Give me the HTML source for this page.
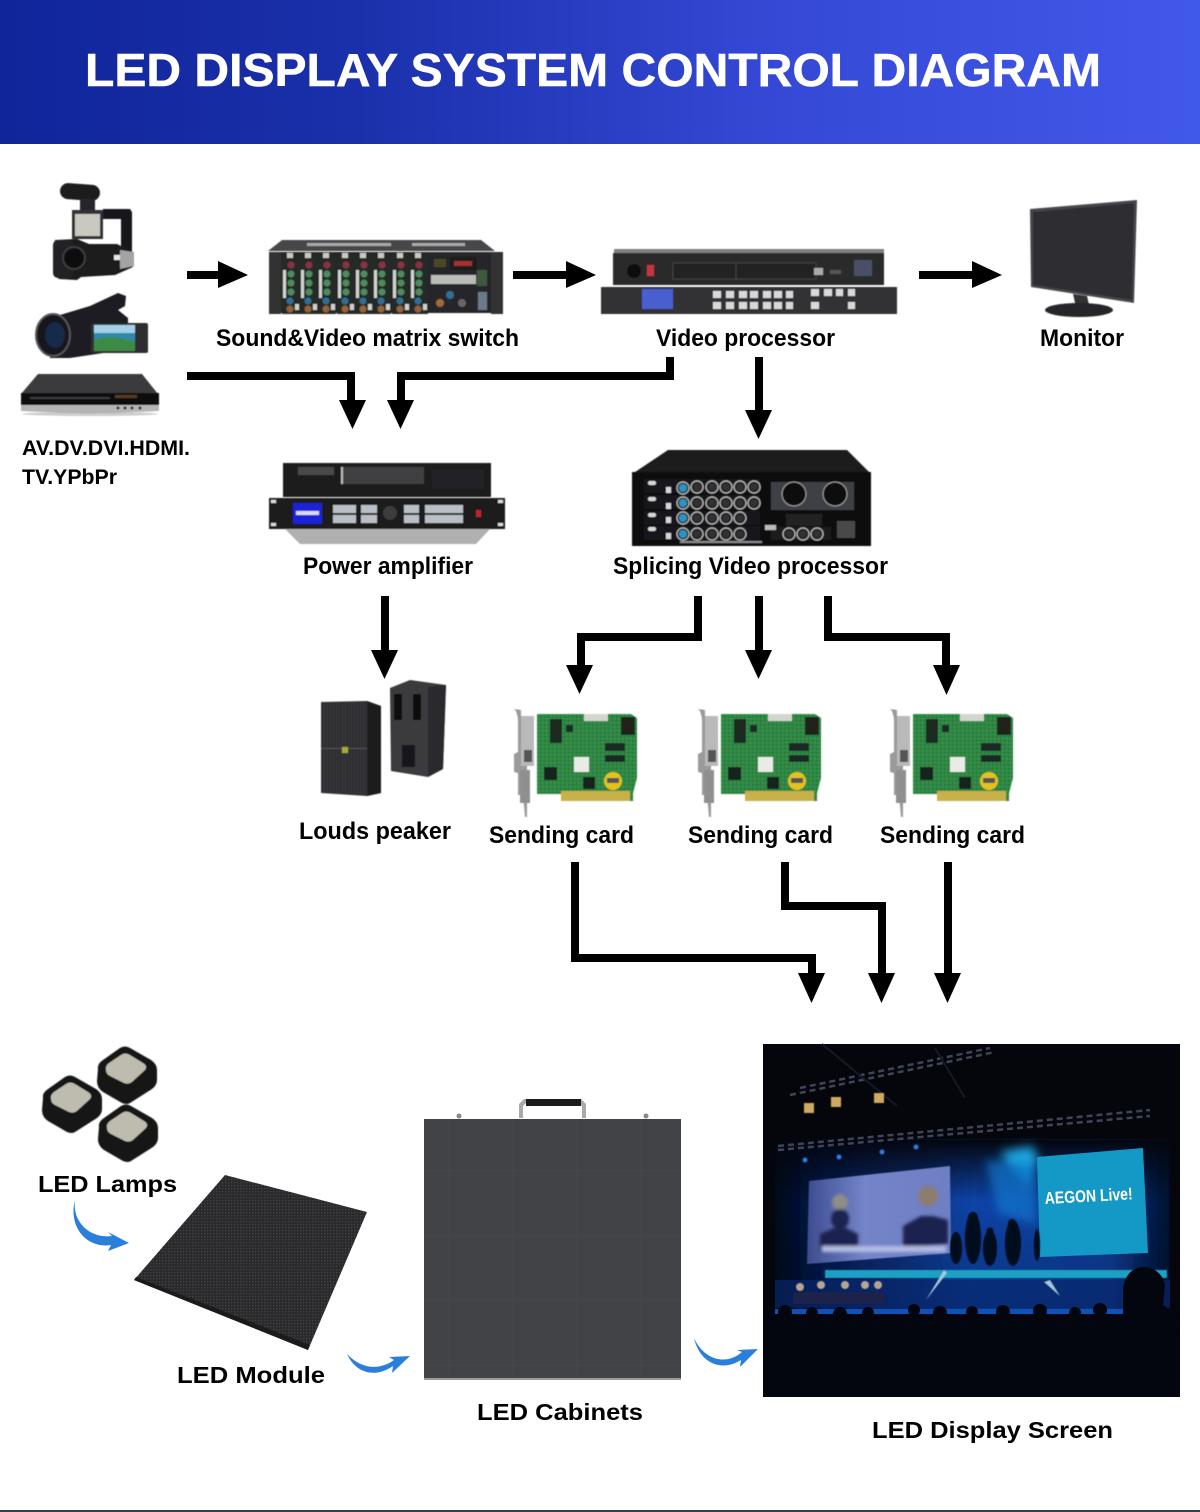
<!DOCTYPE html>
<html><head><meta charset="utf-8">
<style>html,body{margin:0;padding:0;background:#fff}svg{display:block}
text{font-family:"Liberation Sans",sans-serif;font-weight:bold;fill:#000}</style></head>
<body>
<svg width="1200" height="1512" viewBox="0 0 1200 1512" xmlns="http://www.w3.org/2000/svg">
<defs>
<linearGradient id="hd" x1="0" x2="1" y1="0" y2="0"><stop offset="0" stop-color="#10259a"/><stop offset=".3" stop-color="#1a30ab"/><stop offset=".65" stop-color="#3549d6"/><stop offset="1" stop-color="#4158e9"/></linearGradient>
<linearGradient id="stage" x1="0" x2="1" y1="0" y2="0"><stop offset="0" stop-color="#030818"/><stop offset=".12" stop-color="#061a50"/><stop offset=".5" stop-color="#0a44a8"/><stop offset=".85" stop-color="#093c96"/><stop offset="1" stop-color="#03102e"/></linearGradient>
<linearGradient id="stv" x1="0" x2="0" y1="0" y2="1"><stop offset="0" stop-color="#04060f"/><stop offset=".35" stop-color="#04060f" stop-opacity="0"/><stop offset="1" stop-color="#04060f" stop-opacity=".25"/></linearGradient>
<linearGradient id="lsc" x1="0" x2="1" y1="0" y2="0"><stop offset="0" stop-color="#3d4c90"/><stop offset=".4" stop-color="#7484c8"/><stop offset="1" stop-color="#6e7fc4"/></linearGradient>
<pattern id="gn" width="4" height="4" patternUnits="userSpaceOnUse"><rect width="1.4" height="1.4" fill="#1c5a2c" opacity=".55"/><rect x="2" y="2" width="1.2" height="1.2" fill="#6fb583" opacity=".4"/></pattern>
<pattern id="modp" width="3" height="3" patternUnits="userSpaceOnUse"><rect width="3" height="3" fill="#2a2a2c"/><rect width="1.3" height="1.3" fill="#434346"/></pattern>
<pattern id="cabp" width="64" height="65" patternUnits="userSpaceOnUse"><rect width="64" height="65" fill="#414346"/><path d="M0 0H64M0 0V65" stroke="#4a4c4f" stroke-width=".6"/></pattern>
<pattern id="spk" width="3" height="3" patternUnits="userSpaceOnUse"><rect width="3" height="3" fill="#2f2f33"/><rect width="1" height="3" fill="#37373b"/></pattern>
<filter id="b1" x="-10%" y="-10%" width="120%" height="120%"><feGaussianBlur stdDeviation=".6"/></filter>
<filter id="b2" x="-30%" y="-30%" width="160%" height="160%"><feGaussianBlur stdDeviation="5"/></filter>
<filter id="b4" x="-50%" y="-50%" width="200%" height="200%"><feGaussianBlur stdDeviation="1.5"/></filter>

<g id="card" filter="url(#b1)">
<path d="M514 709l7 1v6l6 1v100l-2 0-2-22h-5v-22l-4-1v-18l4-2v-34l-2-7z" fill="#9a9a9a"/>
<rect x="521" y="716" width="13" height="50" fill="#b9b9b9"/>
<rect x="524" y="750" width="8" height="12" fill="#555"/>
<rect x="520" y="770" width="10" height="33" fill="#8f8f8f"/>
<path d="M537 714h94l6 4v60l-4 15v8h-70l0-7h-26z" fill="#2f8743"/>
<path d="M537 714h94l6 4v60l-4 15v8h-70l0-7h-26z" fill="url(#gn)"/>
<path d="M561 791h69v10h-69z" fill="#c9b14a"/>
<rect x="550" y="719" width="12" height="24" fill="#1d2a22"/>
<rect x="584" y="714" width="24" height="7" fill="#d5d5cf"/>
<rect x="621" y="717" width="14" height="18" fill="#20201f"/>
<rect x="605" y="743" width="20" height="8" fill="#1f2b25"/>
<rect x="605" y="755" width="20" height="7" fill="#1f2b25"/>
<rect x="574" y="757" width="15" height="15" fill="#e9ebe6"/>
<rect x="544" y="767" width="13" height="13" fill="#17211c"/>
<rect x="583" y="777" width="12" height="12" fill="#17211c"/>
<circle cx="613" cy="781" r="9" fill="#e3c21f"/>
<rect x="607" y="778" width="12" height="5" fill="#555"/>
<rect x="566" y="725" width="7" height="7" fill="#1f2b25"/>
</g>

<g id="knob"><circle r="6" fill="#202023" stroke="#bdbdbd" stroke-width="1.2"/><circle r="3.500" fill="#333"/></g>
<g id="knobb"><circle r="6" fill="#202023" stroke="#bdbdbd" stroke-width="1.2"/><circle r="4" fill="#2a95c4"/></g>
<g id="strip">
<rect x="0" y="0" width="18" height="60" fill="#252a28"/>
<rect x="5" y="-1" width="6" height="5" fill="#cfc7c2"/>
<circle cx="9" cy="11" r="3.500" fill="#8a3344"/>
<rect x="1" y="16" width="3" height="28" fill="#cfd4cf"/>
<circle cx="9" cy="20" r="3.500" fill="#4e8a5c"/><circle cx="9" cy="29" r="3.500" fill="#4e8a5c"/><circle cx="9" cy="38" r="3.500" fill="#4e8a5c"/>
<circle cx="8" cy="47" r="3.500" fill="#2d6f95"/>
<circle cx="8" cy="55" r="3.500" fill="#9a6238"/>
<rect x="13" y="50" width="4" height="6" fill="#cfd0cc"/>
</g>
<g id="lamp">
<path d="M-29 -4Q-30 -9 -24 -13L-7 -25Q-2 -28 3 -25L24 -13Q30 -9 30 -3V7Q30 12 25 16L3 30Q0 32 -5 30L-24 19Q-30 15 -30 8z" fill="#141414"/>
<path d="M-21 -3Q-22 -7 -18 -10L-6 -18Q-2 -21 3 -18L16 -10Q21 -7 18 -3L6 8Q2 12 -3 10L-17 3Q-21 1 -21 -3z" fill="#bdbcae"/>
</g>
</defs>

<!-- header -->
<rect width="1200" height="144" fill="url(#hd)"/>
<text x="85" y="86" font-size="46" textLength="1016" lengthAdjust="spacingAndGlyphs" style="fill:#fff;stroke:#fff;stroke-width:.5">LED DISPLAY SYSTEM CONTROL DIAGRAM</text>

<!-- arrows -->
<g fill="#000">
<rect x="187" y="271" width="31" height="8"/><polygon points="218,261 248,275 218,288"/>
<rect x="513" y="271" width="53" height="8"/><polygon points="566,261 596,275 566,288"/>
<rect x="919" y="271" width="53" height="8"/><polygon points="972,261 1002,275 972,288"/>

<rect x="187" y="372" width="168" height="8"/><rect x="347" y="372" width="8" height="29"/><polygon points="339,400 366,400 352.500,429"/>
<rect x="397" y="372" width="277" height="8"/><rect x="666" y="357" width="8" height="23"/><rect x="397" y="372" width="8" height="29"/><polygon points="387,400 414,400 400.500,429"/>
<rect x="755" y="357" width="8" height="54"/><polygon points="745,410 772,410 758.500,439"/>
<rect x="381" y="596" width="8" height="55"/><polygon points="371,650 398,650 384.500,679"/>

<rect x="694" y="596" width="8" height="45"/><rect x="577" y="633" width="125" height="8"/><rect x="577" y="633" width="8" height="33"/><polygon points="566,665 593,665 579.500,694"/>
<rect x="755" y="596" width="8" height="55"/><polygon points="745,650 772,650 758.500,679"/>
<rect x="824" y="596" width="8" height="45"/><rect x="824" y="633" width="126" height="8"/><rect x="942" y="633" width="8" height="33"/><polygon points="933,665 960,665 946.500,695"/>

<rect x="571" y="862" width="8" height="100"/><rect x="571" y="954" width="245" height="8"/><rect x="808" y="954" width="8" height="20"/><polygon points="798,973 825,973 811.500,1003"/>
<rect x="781" y="862" width="8" height="48"/><rect x="781" y="902" width="105" height="8"/><rect x="878" y="902" width="8" height="72"/><polygon points="868,973 895,973 881.500,1003"/>
<rect x="944" y="862" width="8" height="112"/><polygon points="934,973 961,973 947.500,1003"/>
</g>

<!-- camera 1 -->
<g filter="url(#b1)">
<rect x="60" y="184" width="40" height="16" rx="8" fill="#1a1a1c" transform="rotate(4 80 192)"/>
<rect x="80" y="199" width="15" height="11" fill="#26262a"/>
<rect x="72" y="210" width="31" height="29" fill="#333335"/>
<rect x="75" y="214" width="25" height="22" fill="#c9c9c2"/>
<path d="M103 209h27l2 3v46h-11v-39h-18z" fill="#19191b"/>
<path d="M55 240l22-1 12 5 28 0 16 8 0 15-18 8-34 2-4 3-18-1-5-5v-29z" fill="#1c1c1e"/>
<rect x="53" y="240" width="20" height="38" rx="5" fill="#232325"/>
<circle cx="74" cy="258" r="11" fill="#0d0d10" stroke="#3d3d40" stroke-width="2"/>
<rect x="114" y="255" width="7" height="5" fill="#e6e6e6"/>
<path d="M120 250l14 2v14l-14 3z" fill="#a3a3a3"/>
</g>
<!-- camera 2 -->
<g filter="url(#b1)">
<path d="M50 318l40-12 28-13 8 3-1 10-7 4 10 8v17h-14l-4 17-40 6-20 0z" fill="#1e1e22"/>
<ellipse cx="53" cy="335" rx="17" ry="21" fill="#15151a" stroke="#55555a" stroke-width="2"/>
<ellipse cx="55" cy="335" rx="10" ry="13" fill="#152a48"/>
<rect x="91" y="323" width="57" height="30" rx="2" fill="#2f2f33"/>
<rect x="94" y="325" width="41" height="26" fill="#2d8aa8"/>
<path d="M94 340q16-6 41 2v9H94z" fill="#3e8a44"/>
<rect x="94" y="325" width="41" height="8" fill="#a4d0e8"/>
</g>
<!-- dvd -->
<g filter="url(#b1)">
<path d="M38 374h104l16 20H21z" fill="#3b3b3d"/>
<rect x="21" y="393" width="138" height="13" fill="#111"/>
<rect x="30" y="397" width="80" height="2" fill="#3a3a3a"/>
<rect x="115" y="395" width="22" height="3" fill="#5a3a20"/>
<path d="M21 405h138v6q-70 4-138 0z" fill="#b5b5b5"/>
<g fill="#222"><circle cx="118" cy="408" r="1.500"/><circle cx="125" cy="408" r="1.500"/><circle cx="132" cy="408" r="1.500"/><circle cx="140" cy="408" r="1.500"/></g>
<ellipse cx="90" cy="414" rx="68" ry="2" fill="#999" opacity=".5"/>
</g>

<!-- mixer -->
<g filter="url(#b1)">
<path d="M282 240h199l14 11H268z" fill="#47474a"/>
<rect x="269" y="252" width="234" height="61" fill="#26282a"/>
<rect x="269" y="252" width="12" height="62" fill="#333"/>
<rect x="491" y="252" width="12" height="62" fill="#333"/>
<g fill="#a8a8a8"><rect x="307" y="243" width="84" height="3"/><rect x="412" y="243" width="53" height="3"/></g>
<use href="#strip" x="282" y="254"/><use href="#strip" x="300" y="254"/><use href="#strip" x="318" y="254"/><use href="#strip" x="337" y="254"/><use href="#strip" x="355" y="254"/><use href="#strip" x="373" y="254"/><use href="#strip" x="392" y="254"/><use href="#strip" x="410" y="254"/>
<rect x="431" y="275" width="45" height="9" fill="#b9bcb9"/>
<rect x="450" y="257" width="27" height="13" fill="#1a1a1f"/>
<rect x="454" y="261" width="18" height="5" fill="#a03030"/>
<rect x="434" y="259" width="12" height="8" fill="#4a4a2a"/>
<circle cx="440" cy="303" r="4" fill="#a06a38"/><circle cx="450" cy="295" r="4" fill="#2d6f95"/><circle cx="462" cy="303" r="4" fill="#666"/>
<rect x="478" y="292" width="9" height="18" fill="#6a7a88"/>
<rect x="477" y="270" width="10" height="16" fill="#3d5a3d"/>
</g>

<!-- video processor -->
<g filter="url(#b1)">
<rect x="614" y="249" width="270" height="5" fill="#7f7f7f"/>
<rect x="613" y="253" width="271" height="32" fill="#29292c"/>
<circle cx="634" cy="271" r="7" fill="#0f0f10"/>
<rect x="647" y="265" width="7" height="11" fill="#c7343f"/>
<rect x="673" y="263" width="63" height="16" fill="#202023" stroke="#56565a" stroke-width=".6"/>
<rect x="736" y="263" width="80" height="16" fill="#202023" stroke="#56565a" stroke-width=".6"/>
<rect x="814" y="268" width="9" height="7" fill="#aaa"/><rect x="830" y="270" width="11" height="4" fill="#555"/>
<rect x="854" y="260" width="18" height="16" fill="#4a5066"/>
<rect x="601" y="287" width="296" height="27" fill="#323235"/>
<rect x="642" y="289" width="31" height="20" fill="#4a5fd0"/>
<g fill="#d9d9d9">
<rect x="713" y="291" width="8" height="7"/><rect x="726" y="291" width="8" height="7"/><rect x="739" y="291" width="8" height="7"/><rect x="750" y="291" width="8" height="7"/><rect x="763" y="291" width="8" height="7"/><rect x="774" y="291" width="8" height="7"/><rect x="786" y="291" width="7" height="7"/>
<rect x="713" y="302" width="8" height="7"/><rect x="726" y="302" width="8" height="7"/><rect x="739" y="302" width="8" height="7"/><rect x="750" y="302" width="8" height="7"/><rect x="763" y="302" width="8" height="7"/><rect x="774" y="302" width="8" height="7"/><rect x="786" y="302" width="7" height="7"/>
<rect x="811" y="289" width="8" height="7"/><rect x="824" y="289" width="8" height="7"/><rect x="836" y="289" width="7" height="7"/><rect x="848" y="289" width="7" height="7"/><rect x="811" y="302" width="8" height="7"/><rect x="848" y="302" width="7" height="7"/>
</g>
</g>

<!-- monitor -->
<g filter="url(#b1)">
<path d="M1030 209l107-9-3 103-103-16z" fill="#47474b"/>
<path d="M1033 212l101-9-2 97-99-15z" fill="#2d2d31"/>
<path d="M1073 294l14 2 3 13-14-2z" fill="#333"/>
<ellipse cx="1079" cy="310" rx="34" ry="7" fill="#272729"/>
</g>

<!-- power amp -->
<g filter="url(#b1)">
<rect x="283" y="463" width="208" height="34" fill="#1d1d1f"/>
<rect x="298" y="467" width="36" height="8" fill="#4a4a4c"/>
<rect x="341" y="467" width="83" height="17" fill="#3f3f42"/>
<rect x="341" y="467" width="2" height="17" fill="#bbb"/>
<rect x="432" y="469" width="52" height="20" fill="#232325"/>
<path d="M284 528h207l-15 16H300z" fill="#b0b0b0"/>
<rect x="269" y="498" width="236" height="31" fill="#1a1a1c"/>
<rect x="293" y="503" width="29" height="21" fill="#1e22d8"/>
<rect x="296" y="511" width="23" height="4" fill="#d8d8f0"/>
<g fill="#b9bfc5"><rect x="333" y="505" width="23" height="8"/><rect x="333" y="515" width="23" height="8"/><rect x="361" y="505" width="16" height="8"/><rect x="361" y="515" width="16" height="8"/><rect x="404" y="505" width="15" height="8"/><rect x="404" y="515" width="15" height="8"/><rect x="425" y="505" width="38" height="8"/><rect x="425" y="515" width="38" height="8"/></g>
<circle cx="390" cy="513" r="7" fill="#3c3c3c"/>
<rect x="476" y="510" width="5" height="7" fill="#c42030"/>
<rect x="271" y="500" width="5" height="3" fill="#ddd"/><rect x="271" y="523" width="5" height="3" fill="#ddd"/><rect x="498" y="500" width="5" height="3" fill="#ddd"/><rect x="498" y="523" width="5" height="3" fill="#ddd"/>
</g>

<!-- amplifier (Splicing) -->
<g filter="url(#b1)">
<path d="M668 450h179l24 24H632z" fill="#1b1b1d"/>
<rect x="632" y="472" width="239" height="74" fill="#0f0f11"/>
<rect x="644" y="479" width="116" height="14" fill="#17171a"/>
<rect x="644" y="495" width="116" height="14" fill="#17171a"/>
<rect x="644" y="511" width="116" height="14" fill="#17171a"/>
<rect x="644" y="526" width="116" height="14" fill="#17171a"/>
<g fill="#d7d7d7"><rect x="648" y="481" width="8" height="4" rx="2"/><rect x="648" y="497" width="8" height="4" rx="2"/><rect x="648" y="513" width="8" height="4" rx="2"/><rect x="648" y="527" width="8" height="4" rx="2"/><rect x="666" y="487" width="5" height="6"/><rect x="666" y="503" width="5" height="6"/><rect x="666" y="517" width="5" height="6"/><rect x="666" y="533" width="5" height="6"/></g>
<use href="#knobb" x="683" y="488"/><use href="#knob" x="697" y="487"/><use href="#knob" x="712" y="487"/><use href="#knob" x="726" y="487"/><use href="#knob" x="740" y="487"/><use href="#knob" x="754" y="487"/>
<use href="#knobb" x="683" y="503"/><use href="#knob" x="697" y="503"/><use href="#knob" x="712" y="503"/><use href="#knob" x="726" y="503"/><use href="#knob" x="740" y="503"/><use href="#knob" x="754" y="503"/>
<use href="#knobb" x="683" y="518"/><use href="#knob" x="697" y="518"/><use href="#knob" x="712" y="518"/><use href="#knob" x="726" y="518"/><use href="#knob" x="740" y="518"/>
<use href="#knobb" x="683" y="534"/><use href="#knob" x="697" y="534"/><use href="#knob" x="712" y="534"/><use href="#knob" x="726" y="534"/><use href="#knob" x="740" y="534"/>
<rect x="771" y="482" width="83" height="28" fill="#3d4144"/>
<circle cx="794" cy="494" r="12" fill="#111" stroke="#a0a0a0" stroke-width="1"/>
<circle cx="835" cy="494" r="12" fill="#111" stroke="#a0a0a0" stroke-width="1"/>
<rect x="786" y="514" width="36" height="12" fill="#222"/>
<rect x="771" y="527" width="60" height="13" fill="#1a1a1c"/>
<use href="#knob" x="789" y="534"/><use href="#knob" x="803" y="534"/><use href="#knob" x="817" y="534"/>
<rect x="837" y="521" width="18" height="17" fill="#4a4a4c"/>
<rect x="765" y="525" width="11" height="5" fill="#bbb"/>
<rect x="680" y="541" width="82" height="2" fill="#8a8a8a"/>
</g>

<!-- speakers -->
<g filter="url(#b1)">
<path d="M321 702l46-1 14 5v87l-14 3-46-3z" fill="url(#spk)"/>
<path d="M367 701l14 5v87l-14 3z" fill="#1d1d1f"/>
<rect x="321" y="748" width="46" height="1" fill="#555"/>
<rect x="342" y="747" width="6" height="6" fill="#a8a838"/>
<path d="M390 688l20-8 36 5-3 84-15 8-37-6z" fill="#3a3a3e"/>
<path d="M428 687l18-2-3 84-15 8z" fill="#2a2a2d"/>
<rect x="394" y="694" width="8" height="26" fill="#0b0b0c"/><rect x="413" y="694" width="8" height="26" fill="#0b0b0c"/>
<rect x="402" y="745" width="13" height="22" fill="#18181a"/>
</g>

<!-- sending cards -->
<use href="#card"/>
<use href="#card" x="184"/>
<use href="#card" x="376"/>

<!-- lamps -->
<g filter="url(#b1)">
<use href="#lamp" x="127" y="1073"/>
<use href="#lamp" x="72" y="1102"/>
<use href="#lamp" x="128" y="1131"/>
</g>

<!-- LED module -->
<path d="M225 1175L367 1212 308 1350 134 1280z" fill="url(#modp)"/>
<path d="M134 1280L308 1350 310 1345 136 1277z" fill="#1b1b1c"/>

<!-- cabinet -->
<g>
<path d="M519 1118v-14l5-5h57l5 5v14h-4v-12l-3-3h-53l-3 3v12z" fill="#a9a9a9"/>
<rect x="526" y="1099" width="55" height="7" fill="#1b1b1c"/>
<circle cx="459" cy="1116" r="2.500" fill="#888"/><circle cx="646" cy="1116" r="2.500" fill="#888"/>
<rect x="424" y="1119" width="257" height="261" fill="url(#cabp)"/>
<rect x="424" y="1378" width="257" height="2" fill="#9a9a9a"/>
</g>

<!-- concert -->
<g>
<rect x="763" y="1044" width="417" height="353" fill="#05060c"/>
<rect x="775" y="1140" width="395" height="175" fill="url(#stage)" filter="url(#b1)"/>
<rect x="775" y="1140" width="395" height="175" fill="url(#stv)"/>
<g fill="none" stroke="#3e4558" stroke-width="2.500" stroke-dasharray="6 4">
<path d="M778 1146L1150 1110"/><path d="M778 1150L1150 1116"/>
<path d="M790 1095L995 1052"/><path d="M800 1088L990 1048"/>
</g>
<path d="M822 1044l75 62M935 1048l30 50" stroke="#14192a" stroke-width="2"/>
<g fill="#d0aa60" filter="url(#b1)"><rect x="804" y="1103" width="10" height="10"/><rect x="831" y="1097" width="10" height="10"/><rect x="874" y="1093" width="10" height="10"/></g>
<g fill="#2b7be0" filter="url(#b1)"><circle cx="805" cy="1160" r="2.500"/><circle cx="839" cy="1157" r="2.500"/><circle cx="882" cy="1152" r="2.500"/><circle cx="916" cy="1147" r="2.500"/></g>
<g filter="url(#b2)">
<path d="M1000 1152l32-6 6 12-6 30-20-20z" fill="#1aa6e0"/>
<path d="M985 1160l50 4v60l-36-10z" fill="#0e74c8" opacity=".75"/>
</g>
<path d="M809 1181L950 1166 951 1253 807 1264z" fill="url(#lsc)" filter="url(#b1)"/>
<g filter="url(#b4)">
<path d="M820 1234l14-6 12 0 12 6v14l-38 4z" fill="#1c2450"/>
<circle cx="840" cy="1202" r="8" fill="#8f8d88"/>
<ellipse cx="840" cy="1219" rx="9" ry="10" fill="#1c2450"/>
<path d="M903 1226l18-10 12 0 15 4v24l-45 4z" fill="#1c2450"/>
<circle cx="928" cy="1196" r="10" fill="#8e7c70"/>
<rect x="822" y="1246" width="124" height="6" fill="#b4bce4"/>
</g>
<path d="M1037 1157L1143 1148 1148 1253 1040 1257z" fill="#1498c6"/>
<text x="1045" y="1204" font-size="17" textLength="88" lengthAdjust="spacingAndGlyphs" transform="rotate(-3 1045 1204)" style="fill:#fff">AEGON Live!</text>
<g fill="#04081c" filter="url(#b1)">
<ellipse cx="973" cy="1238" rx="8" ry="26"/><circle cx="973" cy="1217" r="5"/>
<ellipse cx="990" cy="1248" rx="7" ry="18"/><circle cx="990" cy="1231" r="3.500"/>
<ellipse cx="1013" cy="1243" rx="8" ry="23"/><circle cx="1012" cy="1223" r="4"/>
<ellipse cx="956" cy="1248" rx="6" ry="16"/>
<ellipse cx="1037" cy="1245" rx="3" ry="16"/>
</g>
<rect x="825" y="1270" width="342" height="8" fill="#1ba0c4" filter="url(#b1)"/>
<rect x="775" y="1280" width="395" height="28" fill="#07286e" opacity=".65"/>
<rect x="775" y="1309" width="395" height="5" fill="#0e52b8"/>
<g fill="#b9a494" filter="url(#b1)"><circle cx="800" cy="1287" r="4"/><circle cx="821" cy="1285" r="4"/><circle cx="845" cy="1285" r="4"/><circle cx="865" cy="1285" r="4"/><circle cx="878" cy="1285" r="4"/></g>
<rect x="793" y="1292" width="92" height="12" fill="#1a2348" filter="url(#b1)"/>
<path d="M926 1300l18-30 3 3z" fill="#a6c8dd" filter="url(#b1)"/>
<path d="M1060 1296l-16-14 6-2z" fill="#a6c8dd" filter="url(#b1)"/>
<rect x="764" y="1314" width="415" height="82" fill="#04060f"/>
<g fill="#04060f"><circle cx="785" cy="1312" r="7"/><circle cx="812" cy="1313" r="6"/><circle cx="840" cy="1314" r="7"/><circle cx="868" cy="1313" r="6"/><circle cx="914" cy="1310" r="6"/><circle cx="940" cy="1313" r="7"/><circle cx="972" cy="1312" r="6"/><circle cx="1003" cy="1312" r="7"/><circle cx="1040" cy="1311" r="7"/><circle cx="1075" cy="1313" r="6"/><circle cx="1100" cy="1310" r="7"/></g>
<path d="M1123 1320v-30q2-20 18-23 20 0 24 18l-2 20 16 10v20z" fill="#04060f"/>
</g>

<!-- blue arrows -->
<g fill="#2a7fdb">
<path d="M75 1200C72 1222 90 1239 112 1236L108 1232 129 1243 108 1251 111 1245C86 1249 68 1226 75 1200z"/>
<path d="M347 1354C362 1370 380 1370 394 1360L389 1357 410 1356 392 1373 393 1366C376 1378 356 1374 347 1354z"/>
<path d="M694 1338C704 1360 726 1366 742 1352L737 1350 758 1349 740 1367 741 1360C722 1372 700 1364 694 1338z"/>
</g>

<!-- labels -->
<text x="216" y="346" font-size="24" textLength="303" lengthAdjust="spacingAndGlyphs">Sound&amp;Video matrix switch</text>
<text x="656" y="346" font-size="24" textLength="179" lengthAdjust="spacingAndGlyphs">Video processor</text>
<text x="1040" y="346" font-size="24" textLength="84" lengthAdjust="spacingAndGlyphs">Monitor</text>
<text x="22" y="455" font-size="21" textLength="168" lengthAdjust="spacingAndGlyphs">AV.DV.DVI.HDMI.</text>
<text x="22" y="484" font-size="21" textLength="95" lengthAdjust="spacingAndGlyphs">TV.YPbPr</text>
<text x="303" y="574" font-size="24" textLength="170" lengthAdjust="spacingAndGlyphs">Power amplifier</text>
<text x="613" y="574" font-size="24" textLength="275" lengthAdjust="spacingAndGlyphs">Splicing Video processor</text>
<text x="299" y="839" font-size="24" textLength="152" lengthAdjust="spacingAndGlyphs">Louds peaker</text>
<text x="489" y="843" font-size="24" textLength="145" lengthAdjust="spacingAndGlyphs">Sending card</text>
<text x="688" y="843" font-size="24" textLength="145" lengthAdjust="spacingAndGlyphs">Sending card</text>
<text x="880" y="843" font-size="24" textLength="145" lengthAdjust="spacingAndGlyphs">Sending card</text>
<text x="38" y="1192" font-size="23.500" textLength="139" lengthAdjust="spacingAndGlyphs">LED Lamps</text>
<text x="177" y="1383" font-size="23.500" textLength="148" lengthAdjust="spacingAndGlyphs">LED Module</text>
<text x="477" y="1420" font-size="23.500" textLength="166" lengthAdjust="spacingAndGlyphs">LED Cabinets</text>
<text x="872" y="1438" font-size="23.500" textLength="241" lengthAdjust="spacingAndGlyphs">LED Display Screen</text>

<rect x="0" y="1510" width="1200" height="2" fill="#3a3f4a"/>
</svg>
</body></html>
